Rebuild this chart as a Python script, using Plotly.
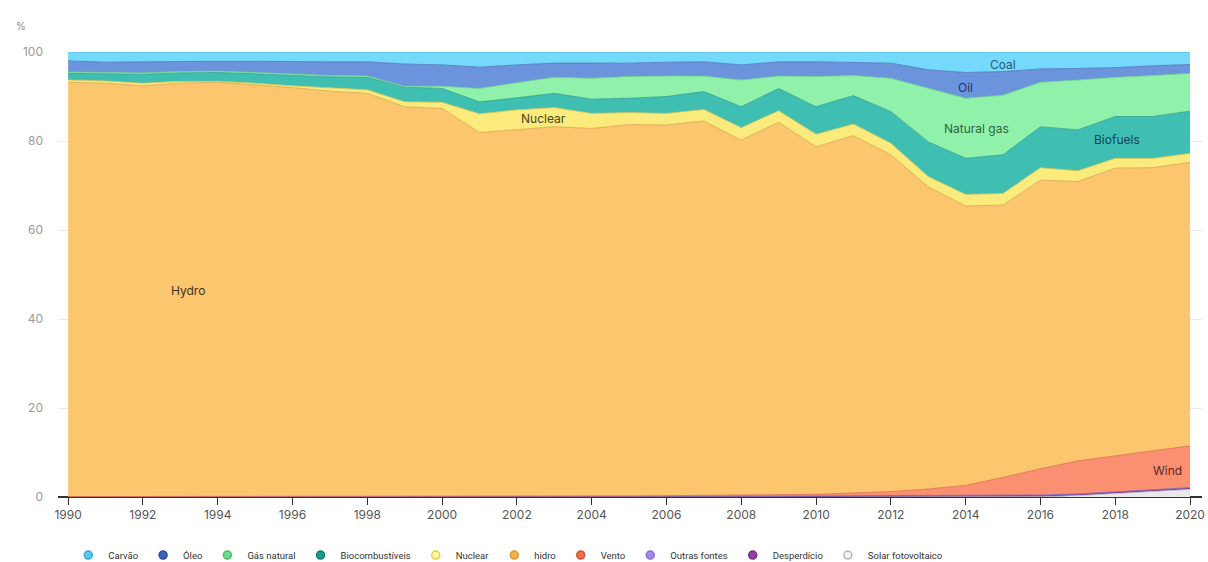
import plotly.graph_objects as go

years = list(range(1990, 2021))

solar = [0]*26 + [0.05, 0.3, 0.8, 1.3, 1.7]
waste = [0.0]*10 + [0.1]*11 + [0.2]*5 + [0.3]*5
other = [0.1]*31
wind = [0, 0, 0, 0, 0, 0, 0, 0, 0.01, 0.01, 0.01, 0.02, 0.03, 0.03, 0.04, 0.05,
        0.1, 0.15, 0.2, 0.3, 0.4, 0.6, 0.9, 1.5, 2.3, 4.1, 5.9, 7.4, 8.0, 8.7, 9.4]
hydro = [93.1, 92.9, 92.3, 92.9, 93.1, 92.5, 91.9, 91.1, 90.6, 87.6, 87.1, 81.7, 82.3,
         83.0, 82.6, 83.4, 83.3, 84.1, 79.8, 83.7, 78.1, 80.3, 75.7, 67.9, 62.8, 61.2,
         64.85, 62.8, 64.7, 63.6, 63.7]
nuclear = [0.5, 0.5, 0.6, 0.4, 0.2, 0.4, 0.4, 0.8, 0.8, 1.1, 1.4, 4.2, 4.5, 4.3, 3.4,
           2.7, 2.6, 2.6, 2.8, 2.6, 2.8, 2.6, 2.6, 2.3, 2.6, 2.6, 2.8, 2.4, 2.2, 2.1, 2.0]
biofuels = [1.5, 1.6, 2.0, 1.9, 2.0, 2.1, 2.3, 2.4, 2.8, 3.3, 3.1, 2.7, 2.7, 3.2, 3.2,
            3.2, 3.8, 4.0, 4.7, 5.0, 6.2, 6.4, 7.1, 7.8, 8.1, 8.7, 9.2, 9.2, 9.4, 9.4, 9.5]
natural_gas = [0.3, 0.3, 0.3, 0.3, 0.3, 0.3, 0.3, 0.3, 0.3, 0.2, 0.5, 3.0, 3.4, 3.6, 4.7,
               4.9, 4.6, 3.5, 6.0, 2.8, 6.8, 4.5, 7.5, 12.0, 13.5, 13.4, 10.0, 11.2, 8.8,
               9.2, 8.5]
oil = [2.5, 2.3, 2.5, 2.3, 2.2, 2.5, 2.8, 3.1, 3.2, 5.0, 4.8, 4.8, 4.0, 3.2, 3.4, 3.0,
       3.1, 3.2, 3.4, 3.2, 3.3, 3.0, 3.4, 4.2, 5.8, 5.3, 3.0, 2.6, 2.2, 2.2, 2.0]
coal = [2.0, 2.3, 2.2, 2.1, 2.1, 2.1, 2.2, 2.2, 2.2, 2.7, 2.9, 3.4, 2.9, 2.5, 2.5, 2.5,
        2.3, 2.2, 2.9, 2.2, 2.2, 2.3, 2.5, 4.0, 4.6, 4.4, 3.8, 3.7, 3.5, 3.1, 2.8]

# bottom -> top stacking order
series = [
    ("Solar fotovoltaico", solar, "#e9e9ec", "#c9c9d2"),
    ("Desperdício", waste, "#8c4aa0", "#6e3582"),
    ("Outras fontes", other, "#a98fe0", "#7d63c0"),
    ("Vento", wind, "#fa8f72", "#d8694d"),
    ("hidro", hydro, "#fcc66f", "#d9a24c"),
    ("Nuclear", nuclear, "#fbea7c", "#d6c24f"),
    ("Biocombustíveis", biofuels, "#3fbfb2", "#2a9d90"),
    ("Gás natural", natural_gas, "#90f1ab", "#6acf88"),
    ("Óleo", oil, "#6c94dd", "#4c72bd"),
    ("Carvão", coal, "#74d9fa", "#52b9dc"),
]

legend_order = ["Carvão", "Óleo", "Gás natural", "Biocombustíveis", "Nuclear", "hidro",
                "Vento", "Outras fontes", "Desperdício", "Solar fotovoltaico"]
legend_fill = {
    "Carvão": ("#5cc8ee", "#3aa9d2"),
    "Óleo": ("#3d62b8", "#2a4c9a"),
    "Gás natural": ("#6fd98d", "#4cbd6c"),
    "Biocombustíveis": ("#169c8d", "#0f7f72"),
    "Nuclear": ("#fff6b0", "#e6cf3a"),
    "hidro": ("#f0b24c", "#d8962f"),
    "Vento": ("#ee6e4e", "#d5553a"),
    "Outras fontes": ("#a58ae6", "#8a6ed0"),
    "Desperdício": ("#9040a0", "#762e87"),
    "Solar fotovoltaico": ("#f2f2f2", "#b8b8b8"),
}

labels = [
    ("Hydro", 1993.2, 46.3, "#3d3321"),
    ("Nuclear", 2002.7, 85.1, "#4b4520"),
    ("Coal", 2015.0, 97.3, "#2c5877"),
    ("Oil", 2014.0, 92.1, "#22356a"),
    ("Natural gas", 2014.3, 82.7, "#2d6642"),
    ("Biofuels", 2018.05, 80.4, "#143f5a"),
    ("Wind", 2019.4, 6.0, "#5b2a20"),
]

fig = go.Figure()
for name, vals, fill, line in series:
    fig.add_trace(go.Scatter(
        x=years, y=vals, name=name, mode="lines", stackgroup="one",
        groupnorm="percent" if name == "Solar fotovoltaico" else None,
        fillcolor=fill, line=dict(color=line, width=0.8),
        showlegend=False, hoverinfo="x+y+name",
    ))

for name in legend_order:
    f, l = legend_fill[name]
    fig.add_trace(go.Scatter(
        x=[None], y=[None], name=name, mode="markers",
        marker=dict(symbol="circle", size=8, color=f, line=dict(color=l, width=1.5)),
        showlegend=True,
    ))

for text, x, y, c in labels:
    fig.add_annotation(x=x, y=y, text=text, showarrow=False,
                       font=dict(size=12, color=c, family="Inter, Roboto, sans-serif"))

fig.add_annotation(xref="paper", yref="paper", x=-0.0385, y=1.076, text="%",
                   showarrow=False, font=dict(size=10, color="#888888"))

fig.update_layout(
    width=1208, height=562,
    margin=dict(l=58, r=6, t=52, b=65, autoexpand=False),
    paper_bgcolor="white", plot_bgcolor="white",
    font=dict(family="Inter, Roboto, sans-serif", color="#555555"),
    showlegend=True,
    legend=dict(orientation="h", x=0.009, xanchor="left", y=-0.098, yanchor="top",
                font=dict(size=9.5, color="#333333", family="Roboto, sans-serif"),
                itemwidth=30, tracegroupgap=0, traceorder="normal"),
    xaxis=dict(range=[1989.73, 2020.32], tickvals=list(range(1990, 2021, 2)),
               showgrid=False, zeroline=False, showline=False, automargin=False,
               ticks="outside", ticklen=7, tickcolor="#333333", tickwidth=1.2,
               tickfont=dict(size=12, color="#555555")),
    yaxis=dict(range=[0, 100], tickvals=[0, 20, 40, 60, 80, 100], automargin=False,
               showgrid=True, gridcolor="#e9e9e9", gridwidth=1,
               zeroline=True, zerolinecolor="#333333", zerolinewidth=1.5,
               showline=False, ticks="", ticklabelstandoff=14,
               tickfont=dict(size=12, color="#999999")),
)

fig.write_html("out.html", config={"displayModeBar": False},
               post_script="document.body.style.margin='0';document.body.style.overflow='hidden';")
